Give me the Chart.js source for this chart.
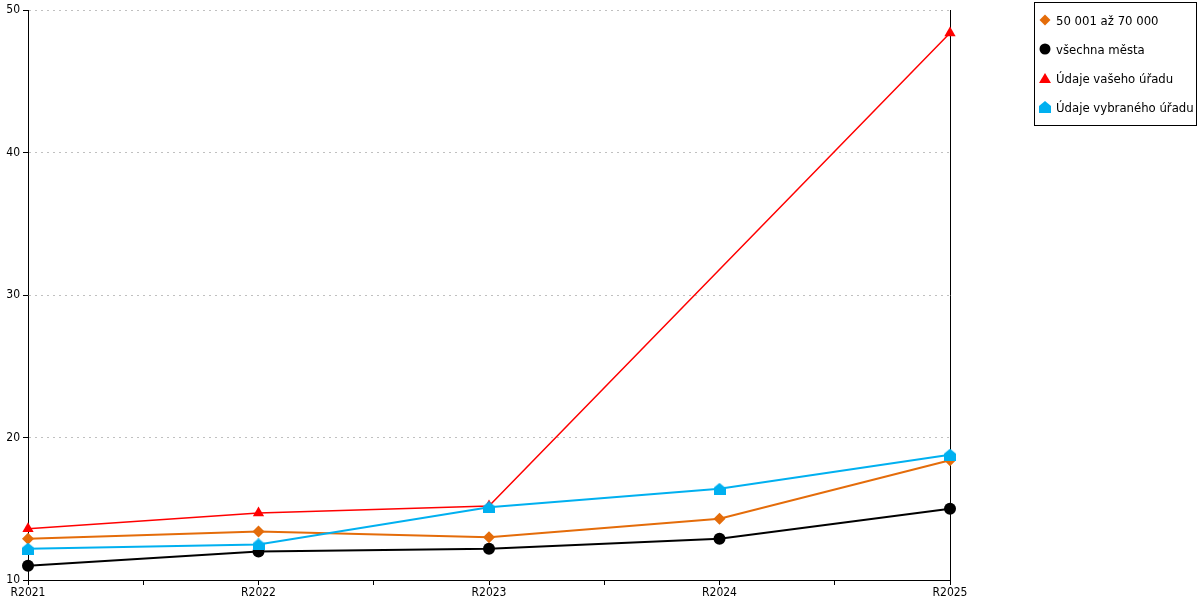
<!DOCTYPE html>
<html>
<head>
<meta charset="utf-8">
<script src="https://cdn.jsdelivr.net/npm/chart.js@4/dist/chart.umd.min.js"></script>
<style>
  html, body { margin: 0; padding: 0; background: #fff; }
  #wrap { position: relative; width: 1200px; height: 600px; }
  #legend {
    position: absolute; left: 1034px; top: 2px; width: 161px; height: 122px;
    border: 1px solid #000; background: #fff;
    font: 13px "DejaVu Sans Condensed", "DejaVu Sans", sans-serif; color: #000;
  }
  .item { position: absolute; left: 4px; height: 16px; display: flex; align-items: center; white-space: nowrap; }
  .item canvas { margin-right: 5px; }
</style>
</head>
<body>
<div id="wrap">
  <canvas id="chart" width="1200" height="600"></canvas>
  <div id="legend"></div>
</div>
<script>
const categories = ["R2021", "R2022", "R2023", "R2024", "R2025"];
const seriesNames = ["50 001 až 70 000", "všechna města", "Údaje vašeho úřadu", "Údaje vybraného úřadu"];
const orangeValues = [12.9, 13.4, 13.0, 14.3, 18.4];
const blackValues = [11.0, 12.0, 12.2, 12.9, 15.0];
const redValues = [13.6, 14.7, 15.2, null, 48.4];
const blueValues = [12.2, 12.5, 15.1, 16.4, 18.8];
const yTicks = [10, 20, 30, 40, 50];

const FONT = { family: "'DejaVu Sans Condensed', 'DejaVu Sans', sans-serif", size: 12 };

// pentagon "house" marker for the blue series
function houseMarker(color, size) {
  const c = document.createElement("canvas");
  c.width = size; c.height = size;
  const g = c.getContext("2d");
  g.fillStyle = color;
  g.beginPath();
  g.moveTo(size / 2, 0);
  g.lineTo(size, size * 0.42);
  g.lineTo(size, size);
  g.lineTo(0, size);
  g.lineTo(0, size * 0.42);
  g.closePath();
  g.fill();
  return c;
}
const house = houseMarker("#00b0f0", 12);

function toPoints(vals) {
  return vals.map((v, i) => ({ x: i, y: v }));
}

const datasets = [
  { label: seriesNames[0], data: toPoints(orangeValues), borderColor: "#e46c0a", backgroundColor: "#e46c0a",
    borderWidth: 2, pointStyle: "rectRot", pointRadius: 6, order: 2 },
  { label: seriesNames[1], data: toPoints(blackValues), borderColor: "#000000", backgroundColor: "#000000",
    borderWidth: 2, pointStyle: "circle", pointRadius: 6, order: 3 },
  { label: seriesNames[2], data: toPoints(redValues), borderColor: "#ff0000", backgroundColor: "#ff0000",
    borderWidth: 1.5, pointStyle: "triangle", pointRadius: 6.5, order: 1 },
  { label: seriesNames[3], data: toPoints(blueValues), borderColor: "#00b0f0", backgroundColor: "#00b0f0",
    borderWidth: 2, pointStyle: house, pointRadius: 6, order: 0 },
];
datasets.forEach(d => {
  d.tension = 0; d.spanGaps = true; d.clip = false;
  d.pointBorderWidth = 0; d.pointHoverRadius = d.pointRadius;
});

new Chart(document.getElementById("chart"), {
  type: "line",
  data: { datasets },
  options: {
    responsive: false,
    animation: false,
    events: [],
    layout: { padding: { left: 0, right: 250, top: 10, bottom: 0 } },
    plugins: { legend: { display: false }, tooltip: { enabled: false } },
    scales: {
      x: {
        type: "linear", min: 0, max: categories.length - 1,
        afterFit: s => { s.height = 20; },
        afterBuildTicks: s => {
          const t = [];
          for (let v = 0; v <= categories.length - 1; v += 0.5) t.push({ value: v });
          s.ticks = t;
        },
        ticks: {
          autoSkip: false, maxRotation: 0, color: "#000", font: FONT, padding: 1,
          callback: v => Number.isInteger(v) ? categories[v] : ""
        },
        grid: { drawOnChartArea: false, tickLength: 5, tickColor: "#000" },
        border: { color: "#000", width: 1 }
      },
      y: {
        min: 10, max: 50,
        afterFit: s => { s.width = 28; },
        afterBuildTicks: s => { s.ticks = yTicks.map(v => ({ value: v })); },
        ticks: { color: "#000", font: FONT, padding: 3 },
        grid: { color: "#c0c0c0", tickColor: "#000", tickLength: 5, tickBorderDash: [] },
        border: { color: "#000", width: 1, dash: [2, 4] }
      },
      y2: {
        position: "right", min: 10, max: 50,
        afterFit: s => { s.width = 0; },
        ticks: { display: false },
        grid: { drawOnChartArea: false, drawTicks: false },
        border: { color: "#000", width: 1 }
      }
    }
  }
});

// legend
const legend = document.getElementById("legend");
const markerDraw = [
  (g) => { g.fillStyle = "#e46c0a"; g.beginPath(); g.moveTo(6, 0.5); g.lineTo(11.5, 6); g.lineTo(6, 11.5); g.lineTo(0.5, 6); g.closePath(); g.fill(); },
  (g) => { g.fillStyle = "#000"; g.beginPath(); g.arc(6, 6, 5.5, 0, Math.PI * 2); g.fill(); },
  (g) => { g.fillStyle = "#ff0000"; g.beginPath(); g.moveTo(6, 1); g.lineTo(12, 11); g.lineTo(0, 11); g.closePath(); g.fill(); },
  (g) => { g.drawImage(houseMarker("#00b0f0", 12), 0, 0); }
];
seriesNames.forEach((name, i) => {
  const row = document.createElement("div");
  row.className = "item";
  row.style.top = (9 + i * 29) + "px";
  const m = document.createElement("canvas");
  m.width = 12; m.height = 12;
  markerDraw[i](m.getContext("2d"));
  const span = document.createElement("span");
  span.textContent = name;
  row.appendChild(m); row.appendChild(span);
  legend.appendChild(row);
});
</script>
</body>
</html>
